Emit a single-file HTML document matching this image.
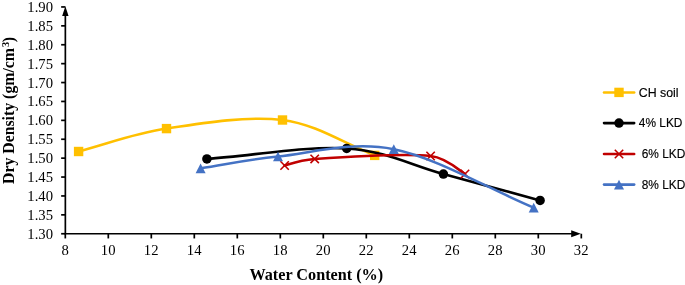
<!DOCTYPE html>
<html><head><meta charset="utf-8"><title>chart</title>
<style>
html,body{margin:0;padding:0;background:#fff;}
body{width:685px;height:285px;overflow:hidden;position:relative;}
svg{position:absolute;left:0;top:0;display:block;will-change:transform;}
text{font-family:"Liberation Serif",serif;fill:#000;}
.t{font-size:14.67px;}
.b{font-size:16.2px;font-weight:bold;}
.l{font-family:"Liberation Sans",sans-serif;font-size:12.35px;fill:#000;stroke:#000;stroke-width:0.15px;}
</style></head><body>
<svg width="685" height="285" viewBox="0 0 685 285">
<rect width="685" height="285" fill="#fff"/>
<g stroke="#000" stroke-width="1.7" fill="none">
<path d="M65.35,10.3 V233.75"/>
<path d="M64.5,233.75 H576.8" stroke-width="1.5"/>
<path d="M61.15,233.75 H65.35"/>
<path d="M61.15,214.85 H65.35"/>
<path d="M61.15,195.95 H65.35"/>
<path d="M61.15,177.05 H65.35"/>
<path d="M61.15,158.15 H65.35"/>
<path d="M61.15,139.25 H65.35"/>
<path d="M61.15,120.35 H65.35"/>
<path d="M61.15,101.45 H65.35"/>
<path d="M61.15,82.55 H65.35"/>
<path d="M61.15,63.65 H65.35"/>
<path d="M61.15,44.75 H65.35"/>
<path d="M61.15,25.85 H65.35"/>
<path d="M61.15,6.95 H65.35"/>
<path d="M65.30,233.75 V238.45"/>
<path d="M108.30,233.75 V238.45"/>
<path d="M151.30,233.75 V238.45"/>
<path d="M194.30,233.75 V238.45"/>
<path d="M237.30,233.75 V238.45"/>
<path d="M280.30,233.75 V238.45"/>
<path d="M323.30,233.75 V238.45"/>
<path d="M366.30,233.75 V238.45"/>
<path d="M409.30,233.75 V238.45"/>
<path d="M452.30,233.75 V238.45"/>
<path d="M495.30,233.75 V238.45"/>
<path d="M538.30,233.75 V238.45"/>
<path d="M581.30,233.75 V238.45"/>
</g>
<path d="M65.35,6.3 L68.55,15.899999999999999 L62.14999999999999,15.899999999999999 Z" fill="#000"/>
<path d="M580.8,233.75 L571.1999999999999,230.35 L571.1999999999999,237.15 Z" fill="#000"/>
<text class="t" x="53.0" y="238.75" text-anchor="end">1.30</text>
<text class="t" x="53.0" y="219.85" text-anchor="end">1.35</text>
<text class="t" x="53.0" y="200.95" text-anchor="end">1.40</text>
<text class="t" x="53.0" y="182.05" text-anchor="end">1.45</text>
<text class="t" x="53.0" y="163.15" text-anchor="end">1.50</text>
<text class="t" x="53.0" y="144.25" text-anchor="end">1.55</text>
<text class="t" x="53.0" y="125.35" text-anchor="end">1.60</text>
<text class="t" x="53.0" y="106.45" text-anchor="end">1.65</text>
<text class="t" x="53.0" y="87.55" text-anchor="end">1.70</text>
<text class="t" x="53.0" y="68.65" text-anchor="end">1.75</text>
<text class="t" x="53.0" y="49.75" text-anchor="end">1.80</text>
<text class="t" x="53.0" y="30.85" text-anchor="end">1.85</text>
<text class="t" x="53.0" y="11.95" text-anchor="end">1.90</text>
<text class="t" x="65.15" y="255.3" text-anchor="middle">8</text>
<text class="t" x="108.15" y="255.3" text-anchor="middle">10</text>
<text class="t" x="151.15" y="255.3" text-anchor="middle">12</text>
<text class="t" x="194.15" y="255.3" text-anchor="middle">14</text>
<text class="t" x="237.15" y="255.3" text-anchor="middle">16</text>
<text class="t" x="280.15" y="255.3" text-anchor="middle">18</text>
<text class="t" x="323.15" y="255.3" text-anchor="middle">20</text>
<text class="t" x="366.15" y="255.3" text-anchor="middle">22</text>
<text class="t" x="409.15" y="255.3" text-anchor="middle">24</text>
<text class="t" x="452.15" y="255.3" text-anchor="middle">26</text>
<text class="t" x="495.15" y="255.3" text-anchor="middle">28</text>
<text class="t" x="538.15" y="255.3" text-anchor="middle">30</text>
<text class="t" x="581.15" y="255.3" text-anchor="middle">32</text>
<text class="b" x="316.3" y="280.0" text-anchor="middle">Water Content (%)</text>
<text class="b" style="font-size:15.8px" transform="translate(14.0,184.0) rotate(-90)" text-anchor="start">Dry Density (gm/cm<tspan font-size="10.4" dx="1.0" dy="-5.2">3</tspan><tspan dx="-0.4" dy="5.2">)</tspan></text>
<path d="M78.60,151.50 C107.90,143.87 132.52,133.85 166.50,128.60 C200.48,123.35 247.80,115.53 282.50,120.00 C317.20,124.47 343.97,143.60 374.70,155.40" stroke="#FFC000" stroke-width="2.55" fill="none" stroke-linecap="round" stroke-linejoin="round"/>
<rect x="73.90" y="146.80" width="9.4" height="9.4" fill="#FFC000"/>
<rect x="161.80" y="123.90" width="9.4" height="9.4" fill="#FFC000"/>
<rect x="277.80" y="115.30" width="9.4" height="9.4" fill="#FFC000"/>
<rect x="370.00" y="150.70" width="9.4" height="9.4" fill="#FFC000"/>
<path d="M206.90,158.95 C253.50,155.45 307.28,145.92 346.70,148.45 C386.12,150.97 411.17,165.44 443.40,174.10 C475.63,182.76 507.87,191.63 540.10,200.40" stroke="#000000" stroke-width="2.55" fill="none" stroke-linecap="round" stroke-linejoin="round"/>
<circle cx="206.90" cy="158.95" r="4.75" fill="#000000"/>
<circle cx="346.70" cy="148.45" r="4.75" fill="#000000"/>
<circle cx="443.40" cy="174.10" r="4.75" fill="#000000"/>
<circle cx="540.10" cy="200.40" r="4.75" fill="#000000"/>
<path d="M284.60,165.50 C287.77,164.80 299.32,159.90 314.70,158.90 C339.03,157.32 405.55,153.48 430.60,156.00 C446.83,157.63 460.58,171.69 465.00,174.00" stroke="#C00000" stroke-width="2.55" fill="none" stroke-linecap="round" stroke-linejoin="round"/>
<path d="M280.40,161.30 L288.80,169.70 M280.40,169.70 L288.80,161.30" stroke="#C00000" stroke-width="1.6" fill="none"/>
<path d="M310.50,154.70 L318.90,163.10 M310.50,163.10 L318.90,154.70" stroke="#C00000" stroke-width="1.6" fill="none"/>
<path d="M426.40,151.80 L434.80,160.20 M426.40,160.20 L434.80,151.80" stroke="#C00000" stroke-width="1.6" fill="none"/>
<path d="M460.80,169.80 L469.20,178.20 M460.80,178.20 L469.20,169.80" stroke="#C00000" stroke-width="1.6" fill="none"/>
<path d="M200.60,168.30 C226.40,164.37 245.80,159.68 278.00,156.50 C310.20,153.32 351.18,140.68 393.80,149.20 C436.42,157.72 487.07,188.13 533.70,207.60" stroke="#4472C4" stroke-width="2.55" fill="none" stroke-linecap="round" stroke-linejoin="round"/>
<path d="M200.60,163.45 L205.60,173.15 L195.60,173.15 Z" fill="#4472C4"/>
<path d="M278.00,151.65 L283.00,161.35 L273.00,161.35 Z" fill="#4472C4"/>
<path d="M393.80,144.35 L398.80,154.05 L388.80,154.05 Z" fill="#4472C4"/>
<path d="M533.70,202.75 L538.70,212.45 L528.70,212.45 Z" fill="#4472C4"/>
<path d="M604.0,92.4 H634.2" stroke="#FFC000" stroke-width="2.55" stroke-linecap="round"/>
<rect x="614.30" y="87.70" width="9.4" height="9.4" fill="#FFC000"/>
<text class="l" x="638.8" y="96.7" >CH soil</text>
<path d="M604.0,123.1 H634.2" stroke="#000000" stroke-width="2.55" stroke-linecap="round"/>
<circle cx="619.00" cy="123.10" r="4.75" fill="#000000"/>
<text class="l" x="638.8" y="127.4" textLength="43.6" lengthAdjust="spacingAndGlyphs">4% LKD</text>
<path d="M604.0,154.0 H634.2" stroke="#C00000" stroke-width="2.55" stroke-linecap="round"/>
<path d="M614.80,149.80 L623.20,158.20 M614.80,158.20 L623.20,149.80" stroke="#C00000" stroke-width="1.6" fill="none"/>
<text class="l" x="641.7" y="157.8" textLength="43.6" lengthAdjust="spacingAndGlyphs">6% LKD</text>
<path d="M604.0,184.6 H634.2" stroke="#4472C4" stroke-width="2.55" stroke-linecap="round"/>
<path d="M619.00,179.75 L624.00,189.45 L614.00,189.45 Z" fill="#4472C4"/>
<text class="l" x="641.7" y="188.7" textLength="43.6" lengthAdjust="spacingAndGlyphs">8% LKD</text>
</svg>
</body></html>
